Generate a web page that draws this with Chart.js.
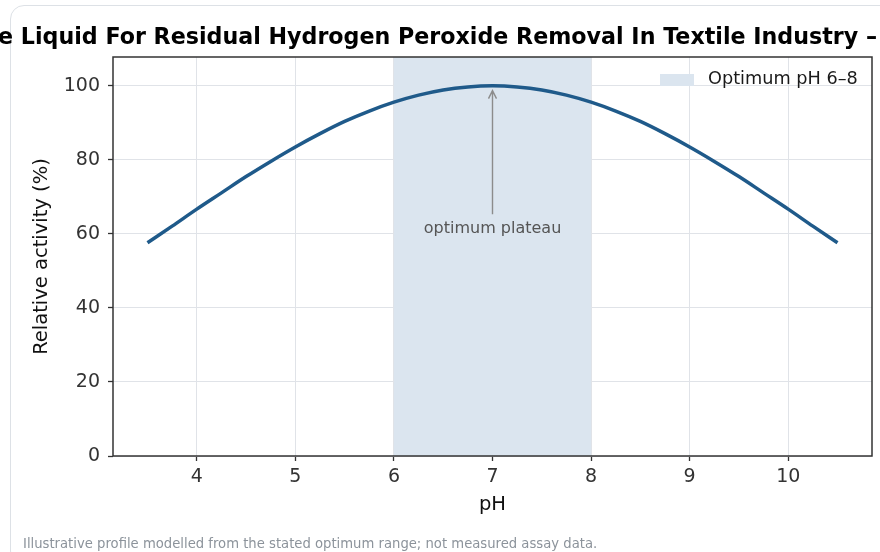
<!DOCTYPE html>
<html>
<head>
<meta charset="utf-8">
<script src="https://cdn.jsdelivr.net/npm/chart.js@4/dist/chart.umd.min.js"></script>
<style>
  html, body { margin: 0; padding: 0; background: #ffffff; }
  body { width: 880px; height: 552px; position: relative; overflow: hidden; font-family: "DejaVu Sans", sans-serif; }
  #card { position: absolute; left: 10px; top: 5px; width: 900px; height: 560px; border: 1.5px solid #dde1e6; border-radius: 14px; box-sizing: border-box; }
  #wrap { position: absolute; left: 0; top: 0; width: 880px; height: 552px; }
  #foot { position: absolute; left: 23px; top: 536px; font-size: 13.2px; color: #8c939b; white-space: nowrap; }
</style>
</head>
<body>
<div id="card"></div>
<div id="wrap"><canvas id="c" width="880" height="552"></canvas></div>
<div id="foot">Illustrative profile modelled from the stated optimum range; not measured assay data.</div>
<script>
// ---- data ----
const titleText = "e Liquid For Residual Hydrogen Peroxide Removal In Textile Industry \u2013";
const xLabel = "pH";
const yLabel = "Relative activity (%)";
const phValues = [3.5, 3.75, 4.0, 4.25, 4.5, 4.75, 5.0, 5.25, 5.5, 5.75, 6.0, 6.25, 6.5, 6.75, 7.0,
                  7.25, 7.5, 7.75, 8.0, 8.25, 8.5, 8.75, 9.0, 9.25, 9.5, 9.75, 10.0, 10.25, 10.5];
const activity = [57.6, 62.1, 66.7, 71.1, 75.5, 79.6, 83.5, 87.1, 90.4, 93.2, 95.6, 97.5, 98.9, 99.7, 100.0,
                  99.7, 98.9, 97.5, 95.6, 93.2, 90.4, 87.1, 83.5, 79.6, 75.5, 71.1, 66.7, 62.1, 57.6];
const bandLabel = "Optimum pH 6\u20138";
const bandRange = [6, 8];
const xTicks = [4, 5, 6, 7, 8, 9, 10];
const yTicks = [0, 20, 40, 60, 80, 100];
const annText = "optimum plateau";
const annTip = [7, 98.7];
const annTail = [7, 65.3];
const annTextPos = [7, 61.3];
const xRange = [3.15, 10.85];
const yRange = [0, 107.8];

const FONT = '"DejaVu Sans", sans-serif';
const LINE_COLOR = '#1f5a8a';
const BAND_COLOR = '#dbe5ef';
const GRID_COLOR = '#e0e3e8';
const SPINE_COLOR = '#333333';

const bandData = [{x: bandRange[0], y: yRange[1]}, {x: bandRange[1], y: yRange[1]}];
const lineData = phValues.map((x, i) => ({x: x, y: activity[i]}));

const decor = {
  id: 'decor',
  afterDatasetsDraw(chart) {
    const ctx = chart.ctx, xs = chart.scales.x, ys = chart.scales.y, a = chart.chartArea;
    const tx = xs.getPixelForValue(annTip[0]), ty = ys.getPixelForValue(annTip[1]);
    const sy = ys.getPixelForValue(annTail[1]);
    ctx.save();
    ctx.strokeStyle = '#8c8c8c';
    ctx.lineWidth = 1.4;
    ctx.beginPath();
    ctx.moveTo(tx, sy); ctx.lineTo(tx, ty);
    ctx.moveTo(tx - 4, ty + 8); ctx.lineTo(tx, ty); ctx.lineTo(tx + 4, ty + 8);
    ctx.stroke();
    ctx.fillStyle = '#555555';
    ctx.font = '16px ' + FONT;
    ctx.textAlign = 'center';
    ctx.textBaseline = 'middle';
    ctx.fillText(annText, xs.getPixelForValue(annTextPos[0]), ys.getPixelForValue(annTextPos[1]));
    // legend
    ctx.fillStyle = BAND_COLOR;
    ctx.fillRect(a.right - 212, a.top + 17, 34, 12);
    ctx.fillStyle = '#1a1a1a';
    ctx.font = '17.7px ' + FONT;
    ctx.textAlign = 'left';
    ctx.fillText(bandLabel, a.right - 164, a.top + 22);
    ctx.restore();
  },
  afterDraw(chart) {
    const ctx = chart.ctx, a = chart.chartArea;
    ctx.save();
    ctx.strokeStyle = SPINE_COLOR;
    ctx.lineWidth = 1.5;
    ctx.strokeRect(a.left, a.top, a.right - a.left, a.bottom - a.top);
    ctx.fillStyle = '#000000';
    ctx.font = 'bold 22.2px ' + FONT;
    ctx.textAlign = 'left';
    ctx.textBaseline = 'middle';
    ctx.fillText(titleText, -2, 38.5);
    ctx.font = '19.5px ' + FONT;
    ctx.fillStyle = '#111111';
    ctx.textAlign = 'center';
    ctx.fillText(xLabel, (a.left + a.right) / 2, 505);
    ctx.translate(42, (a.top + a.bottom) / 2);
    ctx.rotate(-Math.PI / 2);
    ctx.fillText(yLabel, 0, 0);
    ctx.restore();
  }
};

new Chart(document.getElementById('c'), {
  type: 'line',
  data: {
    datasets: [
      {
        label: bandLabel, data: bandData, fill: 'origin', backgroundColor: BAND_COLOR,
        borderWidth: 0, pointRadius: 0, order: 2
      },
      {
        label: 'activity', data: lineData, borderColor: LINE_COLOR, borderWidth: 3.5,
        pointRadius: 0, cubicInterpolationMode: 'monotone', fill: false, order: 1
      }
    ]
  },
  options: {
    responsive: false,
    animation: false,
    events: [],
    layout: { padding: { left: 0, right: 8, top: 57, bottom: 0 } },
    plugins: { legend: { display: false }, title: { display: false }, tooltip: { enabled: false } },
    scales: {
      x: {
        type: 'linear', min: xRange[0], max: xRange[1],
        afterFit(s) { s.height = 96; },
        afterBuildTicks(s) { s.ticks = xTicks.map(v => ({value: v})); },
        grid: { color: GRID_COLOR, lineWidth: 1, drawTicks: true, tickLength: 5, tickColor: SPINE_COLOR, tickWidth: 1.3 },
        border: { display: false },
        ticks: { color: '#333333', font: { family: FONT, size: 19 }, padding: 5, maxRotation: 0 }
      },
      y: {
        type: 'linear', min: yRange[0], max: yRange[1],
        afterFit(s) { s.width = 113; },
        afterBuildTicks(s) { s.ticks = yTicks.map(v => ({value: v})); },
        grid: { color: GRID_COLOR, lineWidth: 1, drawTicks: true, tickLength: 5, tickColor: SPINE_COLOR, tickWidth: 1.3 },
        border: { display: false },
        ticks: { color: '#333333', font: { family: FONT, size: 19 }, padding: 8 }
      }
    }
  },
  plugins: [decor]
});
</script>
</body>
</html>
